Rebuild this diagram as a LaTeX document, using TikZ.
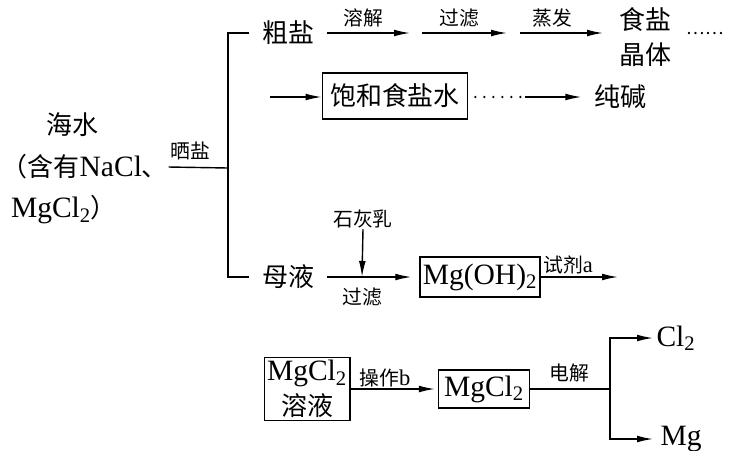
\documentclass[tikz,border=0pt]{standalone}
\usepackage{fontspec}
\setmainfont{Liberation Serif}
\newfontfamily\cjk[Scale=0.88]{Noto Sans CJK SC}
\usepackage{tikz}
\usetikzlibrary{arrows.meta}

\begin{document}
\begin{tikzpicture}[
    x=0.025cm, y=-0.025cm,
    line width=1pt,
    every node/.style={font=\fontsize{21}{25}\selectfont, inner sep=0pt},
    word/.style={inner xsep=8.5pt},
    chem/.style={inner xsep=2pt},
    lbl/.style={font=\fontsize{16}{18}\selectfont, inner sep=1pt},
    box/.style={draw, line width=1pt, inner xsep=2pt, inner ysep=3pt, minimum height=1cm},
    dotline/.style={line width=1.8pt, line cap=round, dash pattern=on 0pt off 6.4pt},
    >={Latex[length=4mm, width=1.7mm]}
  ]
  \useasboundingbox (0,0) rectangle (729,450);
  % Sea water
  \node (sea)  at (72,125)  {\cjk 海水};
  \node[anchor=west] (seaA) at (1,167) {{\cjk （含有}NaCl{\cjk 、}};
  \node (seaB) at (64,210)  {MgCl\textsubscript{2}{\cjk ）}};
  \coordinate (split) at (228,168);
  \draw (seaA.east) -- (split);
  \node[lbl] at (190,151) {\cjk 晒盐};
  % Crude salt
  \node[word] (crude)  at (288,33) {\cjk 粗盐};
  \node[word] (mother) at (288,277) {\cjk 母液};
  \draw (crude.west) -| (split) |- (mother.west);
  \coordinate (c1) at (410,33);
  \coordinate (c2) at (422,33);
  \coordinate (c3) at (507,33);
  \coordinate (c4) at (520,33);
  \coordinate (c5) at (603,33);
  \draw[->] (crude.east) -- (c1);
  \draw[->] (c2) -- (c3);
  \draw[->] (c4) -- (c5);
  \node[lbl] at (363,18) {\cjk 溶解};
  \node[lbl] at (459,18) {\cjk 过滤};
  \node[lbl] at (552,18) {\cjk 蒸发};
  \node[align=center] (salt) at (645,37) {\cjk 食盐\\\cjk 晶体};
  \node[anchor=west, font=\fontsize{14}{16}\selectfont] (more) at (686,34) {\cjk ……};
  % Brine
  \coordinate (feed) at (270,97);
  \node[box, inner xsep=5.5pt, minimum height=1.15cm] (brine) at (395,96) {\cjk 饱和食盐水};
  \coordinate (d1) at (525,97);
  \node[word] (soda) at (620,97) {\cjk 纯碱};
  \draw[->] (feed) -- (brine.west |- feed);
  \draw[dotline, shorten <=5pt] (brine.east |- d1) -- (d1);
  \draw[->] (d1) -- (soda.west |- d1);
  % Mother liquor
  \node[lbl] (lime) at (363,219) {\cjk 石灰乳};
  \coordinate (j1) at (362,277);
  \draw[->] (lime.south) ++(0,-1) -- (j1);
  \node[box] (mgoh) at (480,277) {Mg(OH)\textsubscript{2}};
  \draw[->, shorten >=5.7pt] (mother.east) -- (mgoh.west);
  \node[lbl] at (362,297) {\cjk 过滤};
  \coordinate (r1) at (618,277);
  \draw[->] (mgoh.east) -- (r1);
  \node[lbl] at (568,265) {{\cjk 试剂}a};
  % Magnesium chloride
  \node[box, align=center, inner ysep=2pt] (solution) at (307,389) {MgCl\textsubscript{2}\\\cjk 溶液};
  \node[box, inner xsep=4pt, minimum height=0.95cm] (mgcl) at (484,389) {MgCl\textsubscript{2}};
  \draw[->, shorten >=2pt] (solution) -- (mgcl);
  \node[lbl] at (385,378) {{\cjk 操作}b};
  \coordinate (fork) at (610,389);
  \draw (mgcl.east) -- (fork);
  \node[lbl] at (569,373) {\cjk 电解};
  \node[chem, anchor=west] (chlorine)  at (653,338) {Cl\textsubscript{2}};
  \node[chem, anchor=west, inner xsep=5pt] (magnesium) at (653,439) {Mg};
  \draw[->] (fork) |- (chlorine);
  \draw[->] (fork) |- (magnesium);
\end{tikzpicture}
\end{document}
